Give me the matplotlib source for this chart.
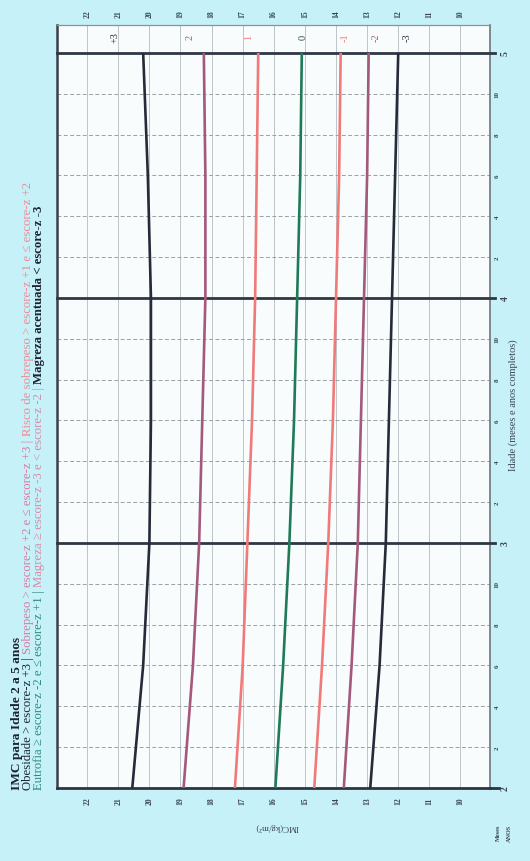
import matplotlib
matplotlib.use("Agg")
import matplotlib.pyplot as plt
from matplotlib.lines import Line2D

# ---- data: WHO BMI-for-age z-score curves, 2 to 5 years ----
ages_months = [24, 30, 36, 42, 48, 54, 60]
bmi_z_pos3 = [20.55, 20.2, 20.0, 19.95, 19.95, 20.05, 20.2]
bmi_z_pos2 = [18.9, 18.6, 18.4, 18.3, 18.2, 18.2, 18.25]
bmi_z_pos1 = [17.25, 17.0, 16.85, 16.7, 16.6, 16.55, 16.5]
bmi_z_0 = [15.95, 15.7, 15.5, 15.35, 15.25, 15.15, 15.1]
bmi_z_neg1 = [14.7, 14.45, 14.25, 14.1, 14.0, 13.9, 13.85]
bmi_z_neg2 = [13.75, 13.5, 13.3, 13.2, 13.1, 13.0, 12.95]
bmi_z_neg3 = [12.9, 12.6, 12.4, 12.3, 12.2, 12.1, 12.0]
z_labels = ["+3", "2", "1", "0", "-1", "-2", "-3"]

bmi_ticks = list(range(10, 23))
year_ticks = [2, 3, 4, 5]
month_ticks = [2, 4, 6, 8, 10]

# ---- styling ----
W, H = 530, 862
BG = "#c6f1f8"
PANEL = "#f8fcfd"
DARK = "#262b3a"
MAUVE = "#a4587c"
SALMON = "#f07a7a"
GREEN = "#1f7a58"
SERIF = ["Liberation Serif", "DejaVu Serif"]

series = [
    (bmi_z_pos3, DARK),
    (bmi_z_pos2, MAUVE),
    (bmi_z_pos1, SALMON),
    (bmi_z_0, GREEN),
    (bmi_z_neg1, SALMON),
    (bmi_z_neg2, MAUVE),
    (bmi_z_neg3, DARK),
]
label_bmi = [21.1, 18.7, 16.8, 15.05, 13.7, 12.7, 11.7]
label_colors = [DARK, MAUVE, SALMON, "#2a4a3a", SALMON, MAUVE, DARK]

plt.rcParams["font.family"] = SERIF

fig = plt.figure(figsize=(W / 100, H / 100), dpi=100, facecolor=BG)


def fx(x):
    return x / W


def fy(y):
    return 1 - y / H


ax_l, ax_r, ax_t, ax_b = 57, 490, 26, 789
ax = fig.add_axes([fx(ax_l), fy(ax_b), (ax_r - ax_l) / W, (ax_b - ax_t) / H])
ax.set_facecolor(PANEL)
ax.set_xlim(22.97, 9.05)
ax.set_ylim(24, 61.37)
ax.set_xticks([])
ax.set_yticks([])

# grid: BMI verticals and 2-month dashed horizontals
for b in bmi_ticks:
    ax.axvline(b, color="#b3bcc0", lw=0.6, zorder=1)
for yr in range(2, 5):
    for m in month_ticks:
        ax.axhline(yr * 12 + m, color="#98a2a6", lw=0.7,
                   dashes=(4, 2.5), zorder=1)

# thick year lines, running a little past the right frame
for yr in year_ticks[1:]:
    ax.add_line(Line2D([0, 1.012], [yr * 12, yr * 12], transform=ax.get_yaxis_transform(),
                       color="#2f3743", lw=2.0, clip_on=False, zorder=3))

# z-score curves
for vals, col in series:
    ax.plot(vals, ages_months, color=col, lw=1.9, zorder=4, solid_capstyle="butt")

# frame
for side, (lw, col) in {"left": (1.8, "#3a4048"), "bottom": (2.0, "#2f3540"),
                        "top": (0.9, "#8a9297"), "right": (1.2, "#6e767b")}.items():
    ax.spines[side].set_linewidth(lw)
    ax.spines[side].set_color(col)
ax.add_line(Line2D([1, 1.02], [24, 24], transform=ax.get_yaxis_transform(),
                   color="#2f3540", lw=2.0, clip_on=False, zorder=3))

# z-score labels near the curve ends
for lab, b, c in zip(z_labels, label_bmi, label_colors):
    ax.text(b, 60.8, lab, rotation=90, ha="center", va="center",
            fontsize=7.5, color=c, zorder=5)

# BMI tick labels (bottom and top)
for b in bmi_ticks:
    xd = ax.transData.transform((b, 24))[0]
    for ypix in (801, 14):
        fig.text(xd / W, fy(ypix), str(b), rotation=90, ha="center", va="center",
                 fontsize=5.5, fontweight="bold", color="#3a4650")

# age tick labels (right side)
for yr in year_ticks:
    yd = ax.transData.transform((10, yr * 12))[1]
    fig.text(fx(505), yd / H, str(yr), rotation=90, ha="center", va="center",
             fontsize=7, fontweight="bold", color="#3a4650")
    if yr < 5:
        for m in month_ticks:
            yd = ax.transData.transform((10, yr * 12 + m))[1]
            fig.text(fx(497), yd / H, str(m), rotation=90, ha="center", va="center",
                     fontsize=5, fontweight="bold", color="#3a4650")

# axis titles
fig.text(fx(513), fy(405), "Idade (meses e anos completos)", rotation=90,
         ha="center", va="center", fontsize=7.5, color="#3a4650")
fig.text(fx(277), fy(827), "IMC(kg/m²)", rotation=180,
         ha="center", va="center", fontsize=6.5, color="#3a4650")
fig.text(fx(498), fy(833), "Meses", rotation=90, ha="center", va="center",
         fontsize=4.5, fontweight="bold", color="#3a4650")
fig.text(fx(509), fy(833), "ANOS", rotation=90, ha="center", va="center",
         fontsize=4.5, fontweight="bold", color="#3a4650")

# header: three rotated lines, some split into coloured pieces
renderer = fig.canvas.get_renderer()


def rotated_line(xpix, ystart, pieces, size):
    y = H - ystart
    for txt, col, weight in pieces:
        t = fig.text(fx(xpix), y / H, txt, rotation=90, rotation_mode="anchor",
                     ha="left", va="center", fontsize=size, color=col,
                     fontweight=weight)
        bb = t.get_window_extent(renderer)
        y = bb.y1


rotated_line(17, 790, [("IMC para Idade 2 a 5 anos", "#1c2230", "bold")], 9.6)
rotated_line(28, 790, [
    ("Obesidade > escore-z +3 | ", "#1c2230", "normal"),
    ("Sobrepeso > escore-z +2 e ≤ escore-z +3 | ", "#d77aa0", "normal"),
    ("Risco de sobrepeso > escore-z +1 e ≤ escore-z +2", "#ee8a96", "normal"),
], 9.2)
rotated_line(39, 790, [
    ("Eutrofia ≥ escore-z -2 e ≤ escore-z +1 | ", "#2e8a7a", "normal"),
    ("Magreza ≥ escore-z -3 e < escore-z -2 | ", "#d98aa6", "normal"),
    ("Magreza acentuada < escore-z -3", "#1c2230", "bold"),
], 9.2)

fig.savefig("out.png", dpi=100, facecolor=BG)
